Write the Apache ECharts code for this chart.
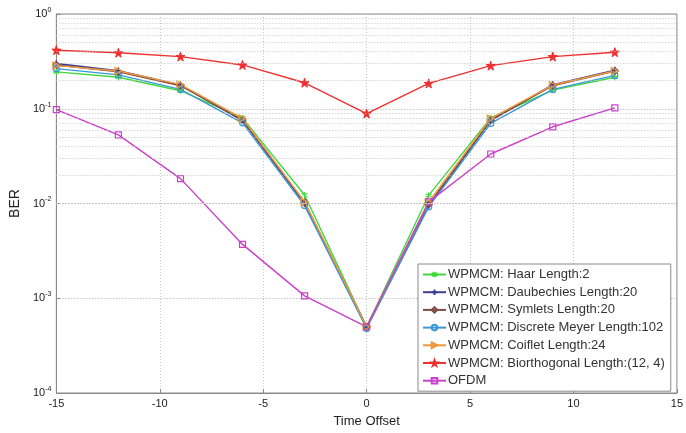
<!DOCTYPE html>
<html>
<head>
<meta charset="utf-8">
<script src="https://cdn.jsdelivr.net/npm/echarts@6/dist/echarts.min.js"></script>
<style>
  html, body { margin: 0; padding: 0; background: #fff; }
  #chart { width: 686px; height: 433px; }
</style>
</head>
<body>
<div id="chart"></div>
<script>
  // time offsets
  var offsets = [-15, -12, -9, -6, -3, 0, 3, 6, 9, 12];

  // BER values
  var haar = [0.245, 0.215, 0.155, 0.080, 0.0123, 0.0005, 0.0122, 0.080, 0.157, 0.215];
  var daubechies = [0.300, 0.252, 0.178, 0.075, 0.0100, 0.00049, 0.0095, 0.075, 0.180, 0.255];
  var symlets = [0.290, 0.245, 0.175, 0.076, 0.0103, 0.0005, 0.0098, 0.076, 0.175, 0.250];
  var meyer = [0.265, 0.228, 0.160, 0.071, 0.0095, 0.00048, 0.0092, 0.070, 0.160, 0.225];
  var coiflet = [0.285, 0.250, 0.180, 0.079, 0.0104, 0.0005, 0.0103, 0.079, 0.178, 0.250];
  var biorthogonal = [0.415, 0.390, 0.355, 0.290, 0.188, 0.089, 0.185, 0.285, 0.355, 0.395];
  var ofdm = [0.098, 0.053, 0.0183, 0.0037, 0.00106, 0.0005, 0.0104, 0.0333, 0.0645, 0.102];

  var names = [
    'WPMCM: Haar Length:2',
    'WPMCM: Daubechies Length:20',
    'WPMCM: Symlets Length:20',
    'WPMCM: Discrete Meyer Length:102',
    'WPMCM: Coiflet Length:24',
    'WPMCM: Biorthogonal Length:(12, 4)',
    'OFDM'
  ];

  function pairs(vals) {
    return vals.map(function (v, i) { return [offsets[i], v]; });
  }

  // star path for the pentagram marker
  function starPath() {
    var d = 'path://';
    for (var i = 0; i < 10; i++) {
      var a = (-90 + i * 36) * Math.PI / 180, r = i % 2 ? 2 : 5;
      d += (i ? 'L' : 'M') + (5 + r * Math.cos(a)).toFixed(2) + ',' + (5 + r * Math.sin(a)).toFixed(2);
    }
    return d + 'Z';
  }

  // minor grid lines 2..9 x 10^k
  var minorLines = [];
  for (var k = -4; k < 0; k++) {
    for (var m = 2; m <= 9; m++) minorLines.push({yAxis: m * Math.pow(10, k)});
  }

  function mk(name, data, color, symbol, size, hollow) {
    return {
      name: name,
      type: 'line',
      data: pairs(data),
      symbol: symbol,
      symbolSize: size,
      lineStyle: {color: color, width: 1.4},
      itemStyle: hollow
        ? {color: 'rgba(255,255,255,0)', borderColor: color, borderWidth: 1.2}
        : {color: color, borderColor: color, borderWidth: 1},
      z: 3
    };
  }

  var series = [
    mk(names[0], haar, '#3fd83f', 'path://M5,0L5,10M0.7,2.5L9.3,7.5M0.7,7.5L9.3,2.5', 6, true),
    mk(names[1], daubechies, '#3d3d94', 'path://M5,0L5,10M0,5L10,5', 7, true),
    mk(names[2], symlets, '#7d4c44', 'diamond', 7, true),
    mk(names[3], meyer, '#3a98d6', 'circle', 6, true),
    mk(names[4], coiflet, '#f0963a', 'path://M0,0L10,5L0,10Z', 7, true),
    mk(names[5], biorthogonal, '#ef3030', starPath(), 9, false),
    mk(names[6], ofdm, '#c940c9', 'rect', 6, true)
  ];

  series[0].markLine = {
    silent: true,
    symbol: 'none',
    label: {show: false},
    animation: false,
    lineStyle: {color: '#c4c4c4', type: [1, 2], width: 1},
    data: minorLines
  };

  var chart = echarts.init(document.getElementById('chart'), null, {renderer: 'canvas'});
  chart.setOption({
    animation: false,
    backgroundColor: '#fff',
    textStyle: {fontFamily: 'Liberation Sans, Arial, sans-serif'},
    grid: {
      left: 49, right: 5, top: 14, bottom: 40,
      show: true, borderColor: '#8a8a8a', borderWidth: 1
    },
    legend: {
      orient: 'vertical',
      left: 418,
      top: 264,
      width: 258,
      padding: [4, 6, 4, 4],
      itemWidth: 23,
      itemHeight: 7,
      itemGap: 4.7,
      backgroundColor: '#fff',
      borderColor: '#8a8a8a',
      borderWidth: 1,
      borderRadius: 0,
      textStyle: {fontSize: 13, color: '#333', padding: [0, 0, 0, -3]},
      data: names
    },
    xAxis: {
      type: 'value',
      min: -15, max: 15, interval: 5,
      name: 'Time Offset',
      nameLocation: 'middle',
      nameGap: 22,
      nameTextStyle: {fontSize: 13, color: '#222'},
      axisLine: {show: true, onZero: false, lineStyle: {color: '#8a8a8a'}},
      axisTick: {show: true, inside: true, length: 4, lineStyle: {color: '#8a8a8a'}},
      axisLabel: {fontSize: 11, color: '#222', margin: 5},
      splitLine: {show: true, lineStyle: {color: '#c4c4c4', type: [1, 2]}}
    },
    yAxis: {
      type: 'log',
      logBase: 10,
      min: 1e-4, max: 1,
      name: 'BER',
      nameLocation: 'middle',
      nameGap: 30,
      nameTextStyle: {fontSize: 14, color: '#222'},
      axisLine: {show: true, onZero: false, lineStyle: {color: '#8a8a8a'}},
      axisTick: {show: true, inside: true, length: 4, lineStyle: {color: '#8a8a8a'}},
      axisLabel: {
        color: '#222',
        margin: 5,
        formatter: function (v) {
          return '{b|10}{s|' + Math.round(Math.log10(v)) + '}';
        },
        rich: {
          b: {fontSize: 11, color: '#222'},
          s: {fontSize: 7, color: '#222', verticalAlign: 'bottom', padding: [0, 0, 8, 0]}
        }
      },
      splitLine: {show: true, lineStyle: {color: '#a8a8a8', type: [1, 2]}}
    },
    series: series
  });
</script>
</body>
</html>
